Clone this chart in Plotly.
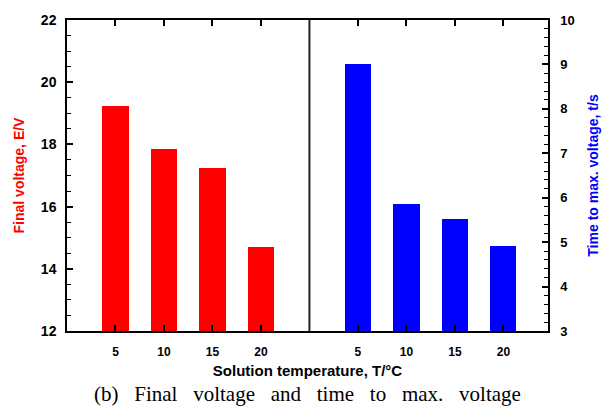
import plotly.graph_objects as go

temps = ["5", "10", "15", "20"]
pos_voltage = [1, 2, 3, 4]
pos_time = [6, 7, 8, 9]
final_voltage = [19.24, 17.84, 17.25, 14.69]
time_to_max = [9.02, 5.86, 5.51, 4.92]
separator_x = 5

font_b = "Liberation Sans, Arial, sans-serif"

fig = go.Figure()
fig.add_trace(go.Bar(x=pos_voltage, y=final_voltage, width=0.54,
                     marker=dict(color="#ff0000", line=dict(width=0)),
                     yaxis="y", showlegend=False))
fig.add_trace(go.Bar(x=pos_time, y=time_to_max, width=0.54,
                     marker=dict(color="#0000ff", line=dict(width=0)),
                     yaxis="y2", showlegend=False))

fig.add_shape(type="line", xref="x", yref="paper", x0=separator_x, x1=separator_x,
              y0=0, y1=1, line=dict(color="#222222", width=2))

fig.update_layout(
    width=614, height=408,
    margin=dict(l=67, r=66, t=16, b=77),
    plot_bgcolor="white", paper_bgcolor="white",
    font=dict(family=font_b, color="black"),
    xaxis=dict(range=[0, 9.92], tickvals=pos_voltage + pos_time,
               ticktext=temps + temps, ticks="inside", ticklen=6, tickwidth=1.5,
               tickcolor="black", showline=True, linecolor="black", linewidth=1.5,
               mirror="ticks", showgrid=False, zeroline=False,
               tickfont=dict(size=12, family=font_b, weight="bold"),
               ticklabelstandoff=9,
               title=dict(text="<b>Solution temperature, T/°C</b>",
                          font=dict(size=15, family=font_b), standoff=7)),
    yaxis=dict(range=[12, 22], dtick=2, ticks="inside", ticklen=6, tickwidth=1.5,
               tickcolor="black", showline=True, linecolor="black", linewidth=1.5,
               showgrid=False, zeroline=False,
               minor=dict(dtick=0.5, ticks="inside", ticklen=4, tickcolor="black", tickwidth=1),
               tickfont=dict(size=14, family=font_b, weight="bold"),
               ticklabelstandoff=6,
               title=dict(text="<b>Final voltage, E/V</b>",
                          font=dict(size=14, family=font_b, color="#ff0000"), standoff=13)),
    yaxis2=dict(range=[3, 10], dtick=1, overlaying="y", side="right", ticks="inside",
                ticklen=6, tickwidth=1.5, tickcolor="black", showline=True,
                linecolor="black", linewidth=1.5, showgrid=False, zeroline=False,
                minor=dict(dtick=0.2, ticks="inside", ticklen=4, tickcolor="black", tickwidth=1),
                tickfont=dict(size=13, family=font_b, weight="bold"),
                ticklabelstandoff=8,
                title=dict(text="<b>Time to max. voltage, t/s</b>",
                           font=dict(size=14, family=font_b, color="#0000ff"), standoff=14)),
    bargap=0,
)

gap = "\u00a0\u00a0 "
caption = gap.join(["(b)", "Final", "voltage", "and", "time", "to", "max.", "voltage"])
fig.add_annotation(text=caption,
                   xref="paper", yref="paper", x=0.5, y=0, yshift=-63,
                   xanchor="center", yanchor="middle", showarrow=False,
                   font=dict(size=21, family="Liberation Serif, Times New Roman, serif", color="black"))

fig.write_html("out.html")
